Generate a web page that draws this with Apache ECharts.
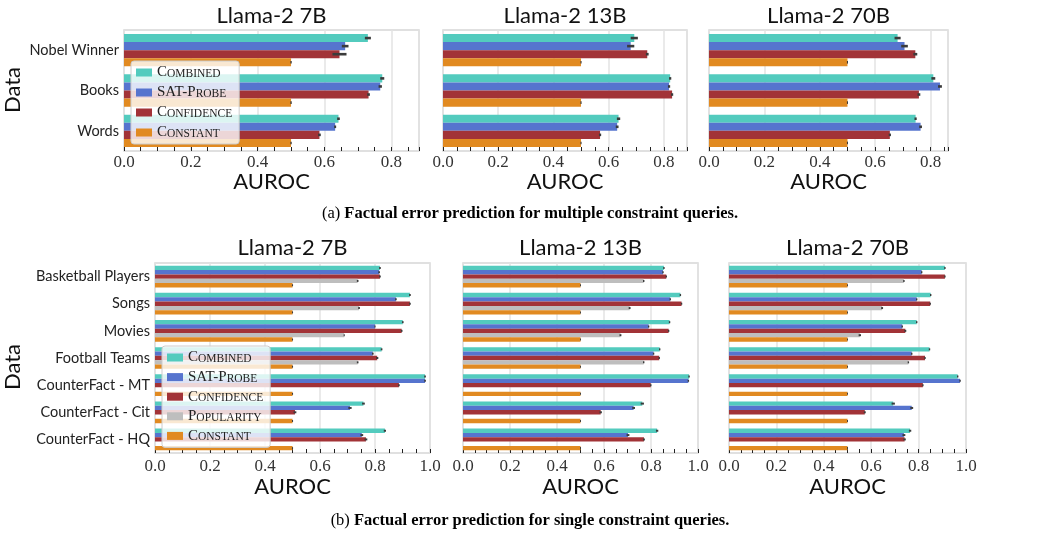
<!DOCTYPE html>
<html><head><meta charset="utf-8">
<script src="https://cdn.jsdelivr.net/npm/echarts@6/dist/echarts.min.js"></script>
<style>html,body{margin:0;padding:0;background:#fff}#c{width:1060px;height:537px}</style>
</head><body><div id="c"></div>
<script>
// ---------------- data ----------------
const models = ['Llama-2 7B', 'Llama-2 13B', 'Llama-2 70B'];
const catsMulti = ['Nobel Winner', 'Books', 'Words'];
const catsSingle = ['Basketball Players', 'Songs', 'Movies', 'Football Teams', 'CounterFact - MT', 'CounterFact - Cit', 'CounterFact - HQ'];
const methodsMulti = ['Combined', 'SAT-Probe', 'Confidence', 'Constant'];
const methodsSingle = ['Combined', 'SAT-Probe', 'Confidence', 'Popularity', 'Constant'];
const tickLabels = ['0.0', '0.2', '0.4', '0.6', '0.8', '1.0'];
const captionA = ['(a)', 'Factual error prediction for multiple constraint queries.'];
const captionB = ['(b)', 'Factual error prediction for single constraint queries.'];
const axisName = 'AUROC';
const yName = 'Data';

// (a) multiple constraint queries: AUROC
const multi7B_combined   = [0.730, 0.773, 0.642];
const multi7B_satProbe   = [0.662, 0.767, 0.632];
const multi7B_confidence = [0.645, 0.732, 0.585];
const multi7B_constant   = [0.500, 0.500, 0.500];
const multi13B_combined   = [0.693, 0.823, 0.636];
const multi13B_satProbe   = [0.680, 0.819, 0.631];
const multi13B_confidence = [0.740, 0.830, 0.569];
const multi13B_constant   = [0.500, 0.500, 0.500];
const multi70B_combined   = [0.681, 0.810, 0.746];
const multi70B_satProbe   = [0.706, 0.834, 0.764];
const multi70B_confidence = [0.745, 0.758, 0.653];
const multi70B_constant   = [0.500, 0.500, 0.500];
// error bar half-widths
const multi7B_combinedErr   = [0.009, 0.006, 0.004];
const multi7B_satProbeErr   = [0.010, 0.005, 0.003];
const multi7B_confidenceErr = [0.021, 0.004, 0.004];
const multi7B_constantErr   = [0.002, 0.002, 0.002];
const multi13B_combinedErr   = [0.013, 0.004, 0.006];
const multi13B_satProbeErr   = [0.013, 0.004, 0.005];
const multi13B_confidenceErr = [0.005, 0.004, 0.004];
const multi13B_constantErr   = [0.002, 0.002, 0.002];
const multi70B_combinedErr   = [0.011, 0.007, 0.004];
const multi70B_satProbeErr   = [0.012, 0.007, 0.005];
const multi70B_confidenceErr = [0.007, 0.005, 0.004];
const multi70B_constantErr   = [0.002, 0.002, 0.002];

// (b) single constraint queries: AUROC
const single7B_combined   = [0.818, 0.927, 0.901, 0.824, 0.982, 0.758, 0.836];
const single7B_satProbe   = [0.815, 0.876, 0.800, 0.792, 0.982, 0.709, 0.752];
const single7B_confidence = [0.818, 0.927, 0.897, 0.808, 0.887, 0.509, 0.767];
const single7B_popularity = [0.737, 0.742, 0.688, 0.737, null, null, null];
const single7B_constant   = [0.500, 0.500, 0.500, 0.500, 0.500, 0.500, 0.500];
const single13B_combined   = [0.855, 0.925, 0.879, 0.837, 0.962, 0.763, 0.826];
const single13B_satProbe   = [0.851, 0.882, 0.790, 0.811, 0.959, 0.726, 0.702];
const single13B_confidence = [0.865, 0.930, 0.875, 0.835, 0.799, 0.586, 0.770];
const single13B_popularity = [0.769, 0.709, 0.670, 0.769, null, null, null];
const single13B_constant   = [0.500, 0.500, 0.500, 0.500, 0.500, 0.500, 0.500];
const single70B_combined   = [0.911, 0.851, 0.792, 0.846, 0.965, 0.693, 0.764];
const single70B_satProbe   = [0.813, 0.792, 0.731, 0.771, 0.975, 0.771, 0.738];
const single70B_confidence = [0.911, 0.849, 0.744, 0.827, 0.818, 0.573, 0.741];
const single70B_popularity = [0.738, 0.646, 0.552, 0.757, null, null, null];
const single70B_constant   = [0.500, 0.500, 0.500, 0.500, 0.500, 0.500, 0.500];
// error bar half-widths
const single7B_combinedErr   = [0.003, 0.003, 0.003, 0.003, 0.003, 0.005, 0.004];
const single7B_satProbeErr   = [0.003, 0.003, 0.002, 0.003, 0.003, 0.006, 0.005];
const single7B_confidenceErr = [0.003, 0.003, 0.003, 0.004, 0.003, 0.005, 0.005];
const single7B_popularityErr = [0.003, 0.003, 0.002, 0.003, null, null, null];
const single7B_constantErr   = [0.002, 0.002, 0.002, 0.002, 0.002, 0.002, 0.002];
const single13B_combinedErr   = [0.003, 0.003, 0.003, 0.003, 0.003, 0.007, 0.005];
const single13B_satProbeErr   = [0.003, 0.003, 0.003, 0.003, 0.003, 0.006, 0.006];
const single13B_confidenceErr = [0.003, 0.003, 0.003, 0.003, 0.003, 0.005, 0.004];
const single13B_popularityErr = [0.003, 0.004, 0.004, 0.003, null, null, null];
const single13B_constantErr   = [0.002, 0.002, 0.002, 0.002, 0.002, 0.002, 0.002];
const single70B_combinedErr   = [0.003, 0.003, 0.003, 0.003, 0.003, 0.007, 0.005];
const single70B_satProbeErr   = [0.003, 0.003, 0.003, 0.003, 0.003, 0.006, 0.006];
const single70B_confidenceErr = [0.003, 0.003, 0.004, 0.003, 0.003, 0.004, 0.005];
const single70B_popularityErr = [0.003, 0.004, 0.005, 0.003, null, null, null];
const single70B_constantErr   = [0.002, 0.002, 0.002, 0.002, 0.002, 0.002, 0.002];

// ---------------- styling / layout ----------------
const colors = {
  'Combined': '#53CBBE',
  'SAT-Probe': '#5674CE',
  'Confidence': '#A23337',
  'Popularity': '#BEBEBE',
  'Constant': '#E18A21'
};
const SANS = 'Lato';
const SERIF = 'Liberation Serif';

const panels = [
  { rect: {left: 124, top: 30, width: 295, height: 121}, max: 0.883, cats: catsMulti, methods: methodsMulti,
    vals: [multi7B_combined, multi7B_satProbe, multi7B_confidence, multi7B_constant],
    errs: [multi7B_combinedErr, multi7B_satProbeErr, multi7B_confidenceErr, multi7B_constantErr],
    title: models[0], showY: true, labMargin: 3, nameY: 182, titleY: 16, errW: 2.6 },
  { rect: {left: 443, top: 30, width: 244, height: 121}, max: 0.884, cats: catsMulti, methods: methodsMulti,
    vals: [multi13B_combined, multi13B_satProbe, multi13B_confidence, multi13B_constant],
    errs: [multi13B_combinedErr, multi13B_satProbeErr, multi13B_confidenceErr, multi13B_constantErr],
    title: models[1], showY: false, labMargin: 3, nameY: 182, titleY: 16, errW: 2.6 },
  { rect: {left: 709, top: 30, width: 239, height: 121}, max: 0.863, cats: catsMulti, methods: methodsMulti,
    vals: [multi70B_combined, multi70B_satProbe, multi70B_confidence, multi70B_constant],
    errs: [multi70B_combinedErr, multi70B_satProbeErr, multi70B_confidenceErr, multi70B_constantErr],
    title: models[2], showY: false, labMargin: 3, nameY: 182, titleY: 16, errW: 2.6 },
  { rect: {left: 155, top: 263, width: 275, height: 190}, max: 1.0, cats: catsSingle, methods: methodsSingle,
    vals: [single7B_combined, single7B_satProbe, single7B_confidence, single7B_popularity, single7B_constant],
    errs: [single7B_combinedErr, single7B_satProbeErr, single7B_confidenceErr, single7B_popularityErr, single7B_constantErr],
    title: models[0], showY: true, labMargin: 5, nameY: 487, titleY: 248, errW: 2 },
  { rect: {left: 463, top: 263, width: 235, height: 190}, max: 1.0, cats: catsSingle, methods: methodsSingle,
    vals: [single13B_combined, single13B_satProbe, single13B_confidence, single13B_popularity, single13B_constant],
    errs: [single13B_combinedErr, single13B_satProbeErr, single13B_confidenceErr, single13B_popularityErr, single13B_constantErr],
    title: models[1], showY: false, labMargin: 5, nameY: 487, titleY: 248, errW: 2 },
  { rect: {left: 729, top: 263, width: 237, height: 190}, max: 1.0, cats: catsSingle, methods: methodsSingle,
    vals: [single70B_combined, single70B_satProbe, single70B_confidence, single70B_popularity, single70B_constant],
    errs: [single70B_combinedErr, single70B_satProbeErr, single70B_confidenceErr, single70B_popularityErr, single70B_constantErr],
    title: models[2], showY: false, labMargin: 5, nameY: 487, titleY: 248, errW: 2 }
];

function catFmt(v) { return '{c|' + v + '}'; }

function smallCaps(s) {
  let out = '', cur = null, buf = '';
  const flush = () => { if (buf) out += '{' + cur + '|' + (cur === 's' ? buf.toUpperCase() : buf) + '}'; buf = ''; };
  for (const ch of s) {
    const t = (ch >= 'a' && ch <= 'z') ? 's' : 'l';
    if (t !== cur) { flush(); cur = t; }
    buf += ch;
  }
  flush();
  return out;
}

const GROUP = 0.8;
function makeErrRender(k, n, lw) {
  return function (params, api) {
    const v = api.value(0), e = api.value(2);
    if (v == null || isNaN(v) || e == null || isNaN(e)) return;
    const ci = api.value(1);
    const band = api.size([0, 1])[1];
    const group = band * GROUP;
    const barH = group / n;
    const c = api.coord([v, ci]);
    const y = c[1] - group / 2 + (k + 0.5) * barH;
    const p1 = api.coord([v - e, ci]);
    const p2 = api.coord([v + e, ci]);
    return { type: 'line', shape: { x1: p1[0], y1: y, x2: p2[0], y2: y },
      style: { stroke: '#3b3b3b', lineWidth: lw } };
  };
}

const grid = [], xAxis = [], yAxis = [], series = [], graphic = [];
panels.forEach((p, pi) => {
  grid.push(Object.assign({ show: true, borderColor: '#d6d6d6', borderWidth: 1.5, backgroundColor: '#fff',
    containLabel: false, outerBoundsMode: 'none' }, p.rect));
  // value axis: grid lines every 0.2 (tick labels are drawn below from this axis' scale)
  xAxis.push({ type: 'value', gridIndex: pi, min: 0, max: p.max, interval: 0.2, position: 'bottom',
    axisLine: { show: false }, axisTick: { show: false }, axisLabel: { show: false },
    splitLine: { show: true, lineStyle: { color: '#e3e3e3', width: 1.5 } } });
  // tick axis: inside ticks every 0.05
  xAxis.push({ type: 'value', gridIndex: pi, min: 0, max: p.max, interval: 0.05, position: 'bottom',
    axisLine: { show: false },
    axisTick: { show: true, inside: true, length: 4, lineStyle: { color: '#222', width: 1 } },
    axisLabel: { show: false }, splitLine: { show: false } });
  yAxis.push({ type: 'category', gridIndex: pi, data: p.cats, inverse: true,
    axisLine: { show: false }, axisTick: { show: false },
    axisLabel: { show: p.showY, formatter: catFmt, fontFamily: SANS, fontSize: 14.5, color: '#222', margin: 5,
      rich: { c: { fontFamily: SANS, fontSize: 14.5, color: '#222' } } },
    splitLine: { show: false } });
  const n = p.methods.length;
  p.methods.forEach((m, k) => {
    series.push({ type: 'bar', name: m, xAxisIndex: pi * 2, yAxisIndex: pi, data: p.vals[k],
      barGap: '0%', barCategoryGap: '20%', itemStyle: { color: colors[m] }, z: 2, silent: true });
  });
  p.methods.forEach((m, k) => {
    series.push({ type: 'custom', name: m + ' err', xAxisIndex: pi * 2, yAxisIndex: pi,
      data: p.cats.map((c, i) => [p.vals[k][i], i, p.errs[k][i]]),
      encode: { x: 0, y: 1 }, renderItem: makeErrRender(k, n, p.errW), z: 3, silent: true });
  });
  const cx = p.rect.left + p.rect.width / 2;
  graphic.push({ type: 'text', x: cx, y: p.titleY,
    style: { text: p.title, fontFamily: SANS, fontSize: 22, fill: '#111', align: 'center', verticalAlign: 'middle' } });
  graphic.push({ type: 'text', x: cx, y: p.nameY,
    style: { text: axisName, fontFamily: SANS, fontSize: 22, fill: '#111', align: 'center', verticalAlign: 'middle' } });
});

graphic.push({ type: 'text', x: 13, y: 90, rotation: Math.PI / 2,
  style: { text: yName, fontFamily: SANS, fontSize: 22, fill: '#111', align: 'center', verticalAlign: 'middle' } });
graphic.push({ type: 'text', x: 13, y: 367, rotation: Math.PI / 2,
  style: { text: yName, fontFamily: SANS, fontSize: 22, fill: '#111', align: 'center', verticalAlign: 'middle' } });
function captionEl(cap, y) {
  return { type: 'text', x: 530, y: y, scaleX: 0.97,
    style: { text: '{n|' + cap[0] + ' }{b|' + cap[1] + '}', align: 'center', verticalAlign: 'middle',
      rich: { n: { fontFamily: SERIF, fontSize: 17, fill: '#000', fontWeight: 'normal' },
              b: { fontFamily: SERIF, fontSize: 17, fill: '#000', fontWeight: 'bold' } } } };
}
graphic.push(captionEl(captionA, 213.5));
graphic.push(captionEl(captionB, 521));

const legendBase = {
  orient: 'vertical', icon: 'rect', itemWidth: 16, itemHeight: 8, itemGap: 5,
  padding: [4, 7, 4, 5], backgroundColor: 'rgba(255,255,255,0.8)', borderColor: '#cccccc',
  borderWidth: 1, borderRadius: 3, selectedMode: false, z: 10,
  formatter: smallCaps,
  textStyle: { fontFamily: SERIF, rich: {
    l: { fontFamily: SERIF, fontSize: 15, lineHeight: 15, color: '#222', verticalAlign: 'bottom' },
    s: { fontFamily: SERIF, fontSize: 11.5, lineHeight: 11.5, color: '#222', verticalAlign: 'bottom' } } }
};
const legend = [
  Object.assign({}, legendBase, { data: methodsMulti, left: 131, top: 61 }),
  Object.assign({}, legendBase, { data: methodsSingle, left: 162, top: 346, itemGap: 4.6 })
];

const chart = echarts.init(document.getElementById('c'), null, { renderer: 'canvas' });
chart.setOption({ animation: false, backgroundColor: '#fff',
  grid, xAxis, yAxis, series, legend, graphic });

// serif tick labels, placed through each panel's own value axis
const tickTexts = [];
panels.forEach((p, pi) => {
  tickLabels.forEach(lbl => {
    const v = parseFloat(lbl);
    if (v > p.max + 1e-9) return;
    const px = chart.convertToPixel({ xAxisIndex: pi * 2 }, v);
    tickTexts.push({ type: 'text', x: px, y: p.rect.top + p.rect.height + p.labMargin, z: 5,
      style: { text: lbl, fontFamily: SERIF, fontSize: 17, fill: '#333', align: 'center', verticalAlign: 'top' } });
  });
});
chart.setOption({ graphic: graphic.concat(tickTexts) });
</script>
</body></html>
